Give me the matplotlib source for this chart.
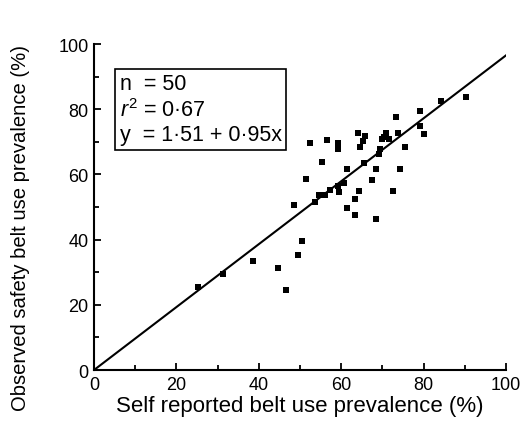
import numpy as np
import matplotlib
matplotlib.use("Agg")
import matplotlib.pyplot as plt
from matplotlib.ticker import MultipleLocator

plt.rcParams['font.family'] = ['Liberation Sans', 'DejaVu Sans']
plt.rcParams['mathtext.fontset'] = 'custom'
plt.rcParams['mathtext.rm'] = 'Liberation Sans'
plt.rcParams['mathtext.it'] = 'Liberation Sans:italic'

# self reported (x) vs observed (y) belt use prevalence, %
self_reported = [25.3, 31.4, 38.5, 44.6, 46.6, 48.6, 49.5, 50.4, 51.5, 52.5,
                 53.7, 54.7, 55.3, 56.0, 56.5, 57.4, 59.3, 59.3, 59.2, 59.4,
                 60.6, 61.4, 61.5, 63.4, 63.3, 64.0, 64.3, 64.5, 65.2, 65.8,
                 65.5, 67.4, 68.4, 68.4, 69.3, 69.5, 69.9, 70.9, 71.6, 72.6,
                 73.3, 73.7, 74.3, 75.4, 79.2, 79.1, 80.2, 84.3, 90.3, 70.5]
observed = [25.6, 29.3, 33.5, 31.4, 24.4, 50.7, 35.3, 39.6, 58.6, 69.6,
            51.4, 53.6, 63.7, 53.7, 70.7, 55.3, 69.6, 67.8, 56.4, 54.5,
            57.5, 61.8, 49.6, 52.6, 47.4, 72.7, 54.8, 68.5, 70.3, 71.9,
            63.5, 58.2, 61.7, 46.3, 66.3, 67.8, 70.9, 72.7, 70.9, 54.8,
            77.7, 72.7, 61.7, 68.5, 79.6, 74.8, 72.4, 82.5, 83.8, 71.5]

intercept = 1.51
slope = 0.95

fig = plt.figure(figsize=(5.24, 4.27), dpi=100)
ax = fig.add_axes([0.1794, 0.1311, 0.7862, 0.7635])

# regression line as printed: from the origin to the fitted value at x = 100
ax.plot([0, 100], [0, intercept + slope * 100], color='black', lw=1.5)
ax.plot(self_reported, observed, 's', color='black', ms=4.3, mew=0)

ax.set_xlim(0, 100)
ax.set_ylim(0, 100)
ax.xaxis.set_major_locator(MultipleLocator(20))
ax.xaxis.set_minor_locator(MultipleLocator(10))
ax.yaxis.set_major_locator(MultipleLocator(20))
ax.yaxis.set_minor_locator(MultipleLocator(10))
ax.tick_params(which='both', direction='in', width=1.3, labelsize=13, pad=4)
ax.tick_params(which='major', length=5)
ax.tick_params(which='minor', length=3.5)

for side in ['top', 'right']:
    ax.spines[side].set_visible(False)
for side in ['left', 'bottom']:
    ax.spines[side].set_linewidth(1.5)

ax.set_xlabel("Self reported belt use prevalence (%)", fontsize=16, labelpad=2)
ax.set_ylabel("Observed safety belt use prevalence (%)", fontsize=14.6)
ax.yaxis.set_label_coords(-0.155, 0.44)

stats = "n  = 50\n$r^2$ = 0·67\ny  = 1·51 + 0·95x"
ax.text(0.062, 0.91, stats, transform=ax.transAxes, fontsize=15.5, va='top',
        ha='left', linespacing=1.2,
        bbox=dict(boxstyle='square,pad=0.22', fc='white', ec='black', lw=1.2))

fig.savefig("out.png", dpi=100)
